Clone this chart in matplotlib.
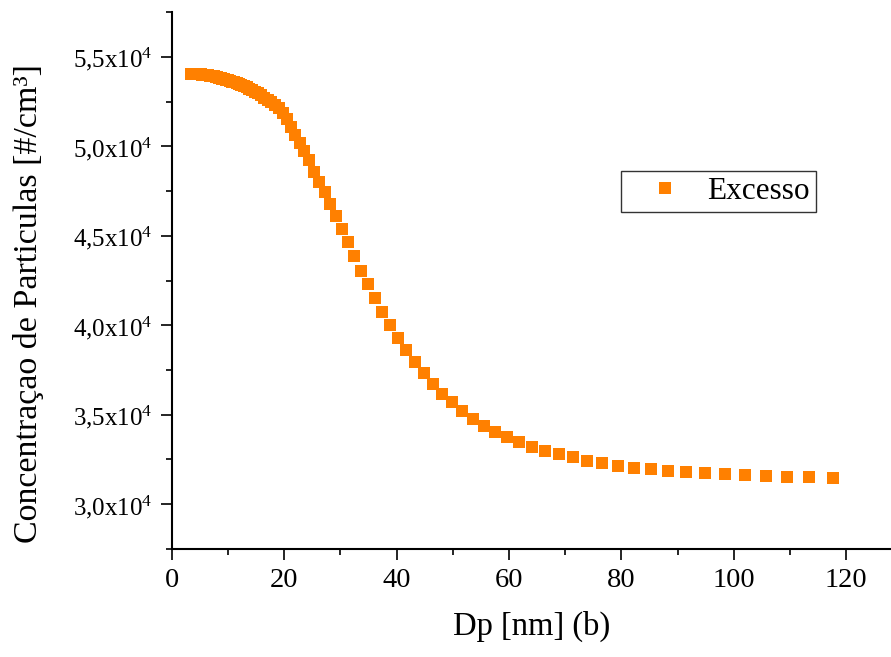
import matplotlib
matplotlib.use("Agg")
import matplotlib.pyplot as plt
from matplotlib.ticker import MultipleLocator, FuncFormatter

plt.rcParams['font.family'] = ['Liberation Serif', 'DejaVu Serif']
plt.rcParams['mathtext.fontset'] = 'custom'
plt.rcParams['mathtext.rm'] = 'Liberation Serif'
plt.rcParams['mathtext.it'] = 'Liberation Serif:italic'

# diametro (nm)
dp = [3.41, 3.54, 3.67, 3.80, 3.93, 4.08, 4.23, 4.38, 4.54, 4.71,
      4.88, 5.05, 5.24, 5.43, 5.63, 5.84, 6.05, 6.26, 6.49, 6.73,
      6.98, 7.23, 7.50, 7.77, 8.06, 8.35, 8.65, 8.97, 9.30, 9.63,
      9.98, 10.35, 10.72, 11.11, 11.52, 11.93, 12.37, 12.82, 13.29, 13.77,
      14.27, 14.80, 15.33, 15.89, 16.47, 17.07, 17.69, 18.33, 19.00, 19.69,
      20.40, 21.15, 21.92, 22.71, 23.55, 24.40, 25.29, 26.21, 27.16, 28.15,
      29.18, 30.24, 31.34, 32.48, 33.65, 34.88, 36.15, 37.47, 38.84, 40.24,
      41.71, 43.23, 44.80, 46.44, 48.12, 49.88, 51.69, 53.57, 55.53, 57.54,
      59.64, 61.81, 64.06, 66.39, 68.81, 71.31, 73.91, 76.60, 79.39, 82.27,
      85.27, 88.37, 91.59, 94.92, 98.38, 101.95, 105.66, 109.51, 113.49, 117.62]

# concentracao (#/cm3)
excesso = [54050, 54048, 54046, 54044, 54041, 54038, 54035, 54032, 54028, 54024,
           54020, 54015, 54010, 54004, 53998, 53991, 53983, 53974, 53963, 53950,
           53936, 53920, 53902, 53882, 53860, 53836, 53810, 53782, 53752, 53720,
           53686, 53650, 53610, 53566, 53518, 53466, 53410, 53350, 53285, 53212,
           53132, 53044, 52948, 52842, 52724, 52594, 52452, 52300, 52110, 51840,
           51500, 51090, 50610, 50190, 49710, 49240, 48580, 47990, 47440, 46790,
           46120, 45390, 44650, 43880, 43050, 42290, 41530, 40760, 39990, 39270,
           38590, 37940, 37310, 36740, 36160, 35700, 35230, 34760, 34390, 34040,
           33740, 33470, 33210, 32990, 32800, 32620, 32440, 32290, 32160, 32050,
           31960, 31870, 31795, 31740, 31685, 31625, 31570, 31530, 31515, 31475]

fig = plt.figure(figsize=(8.91, 6.57), dpi=100)
ax = fig.add_axes([0.193, 0.1644, 0.807, 0.8173])

ax.plot(dp, excesso, 's', color='#ff8000', markersize=8.8, markeredgewidth=0, label='Excesso')

ax.set_xlim(0, 128)
ax.set_ylim(27500, 57500)

ax.xaxis.set_major_locator(MultipleLocator(20))
ax.xaxis.set_minor_locator(MultipleLocator(10))
ax.yaxis.set_major_locator(MultipleLocator(5000))
ax.yaxis.set_minor_locator(MultipleLocator(2500))


def fmt_y(v, pos):
    s = ('%.1f' % (v / 1e4)).replace('.', ',')
    return s + r'x10$^{\mathregular{4}}$'


ax.yaxis.set_major_formatter(FuncFormatter(fmt_y))

for side in ['top', 'right']:
    ax.spines[side].set_visible(False)
for side in ['left', 'bottom']:
    ax.spines[side].set_linewidth(1.5)

ax.tick_params(which='major', direction='out', length=8, width=1.2, pad=6)
ax.tick_params(which='minor', direction='out', length=4.5, width=1.2)
ax.tick_params(axis='x', labelsize=20.5)
ax.tick_params(axis='y', labelsize=18)

ax.set_xlabel('Dp [nm] (b)', fontsize=23.5)
ax.set_ylabel('Concentraçao de Particulas [#/cm³]', fontsize=24.5)
ax.xaxis.set_label_coords(0.5, -0.115)
ax.yaxis.set_label_coords(-0.178, 0.457)

leg = ax.legend(loc='upper left', bbox_to_anchor=(0.6245, 0.704), fontsize=22.5,
                frameon=True, fancybox=False, markerscale=0.9, handletextpad=0.15,
                borderpad=0.2, handlelength=2.4, borderaxespad=0)
leg.get_frame().set_edgecolor('black')
leg.get_frame().set_linewidth(1.0)

plt.savefig('out.png', dpi=100)
